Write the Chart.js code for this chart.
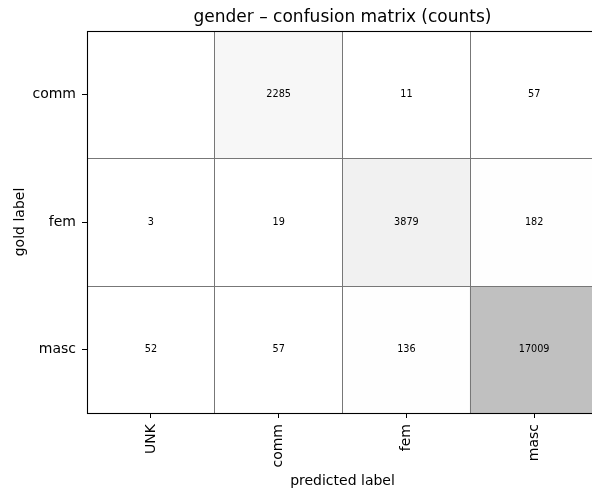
<!DOCTYPE html>
<html>
<head>
<meta charset="utf-8">
<script src="https://cdn.jsdelivr.net/npm/chart.js@4/dist/chart.umd.min.js"></script>
<style>
  html, body { margin: 0; padding: 0; background: #fff; overflow: hidden; }
  #wrap { width: 600px; height: 494px; }
</style>
</head>
<body>
<div id="wrap"><canvas id="cm"></canvas></div>
<script>
/* ====== DATA ====== */
const predLabels = ["UNK", "comm", "fem", "masc"];
const goldLabels = ["comm", "fem", "masc"];
const rowComm = [0, 2285, 11, 57];
const rowFem  = [3, 19, 3879, 182];
const rowMasc = [52, 57, 136, 17009];
const rows = [rowComm, rowFem, rowMasc];

const maxCount = Math.max(...rows.flat());
const FONT = "DejaVu Sans";

function shade(v) {
    const g = Math.round(255 - 63 * v / maxCount);
    return `rgb(${g},${g},${g})`;
}

const datasets = rows.map((row, i) => ({
    label: goldLabels[i],
    data: row.map(() => [i, i + 1]),
    counts: row,
    backgroundColor: row.map(shade),
    borderWidth: 0,
    barPercentage: 1,
    categoryPercentage: 1,
    grouped: false
}));

/* ====== CELL LINES, TEXT + FRAME ====== */
const cellText = {
    id: "cellText",
    afterDatasetsDraw(chart) {
        const c = chart.ctx;
        const a = chart.chartArea;
        const xs = chart.scales.x, ys = chart.scales.y;
        c.save();

        // cell edges
        c.strokeStyle = "#777";
        c.lineWidth = 1;
        c.beginPath();
        for (let j = 1; j < predLabels.length; j++) {
            const px = Math.floor((xs.getPixelForValue(j - 1) + xs.getPixelForValue(j)) / 2) + 0.5;
            c.moveTo(px, a.top);
            c.lineTo(px, a.bottom);
        }
        for (let i = 1; i < goldLabels.length; i++) {
            const py = Math.round(ys.getPixelForValue(i)) + 0.5;
            c.moveTo(a.left, py);
            c.lineTo(a.right, py);
        }
        c.stroke();

        // counts
        c.font = `9.7px '${FONT}'`;
        c.fillStyle = "#000";
        c.textAlign = "center";
        c.textBaseline = "middle";
        chart.data.datasets.forEach((ds, di) => {
            chart.getDatasetMeta(di).data.forEach((bar, j) => {
                const v = ds.counts[j];
                if (!v) return;
                const p = bar.getProps(["x", "y", "base"], true);
                c.fillText(String(v), p.x, (p.y + p.base) / 2);
            });
        });

        // axes frame
        c.strokeStyle = "#000";
        c.lineWidth = 1.1;
        const l = Math.round(a.left) + 0.5, t = Math.round(a.top) + 0.5;
        const b = Math.round(a.bottom) + 0.5, r = Math.round(a.right) + 0.5;
        c.strokeRect(l, t, r - l, b - t);
        c.restore();
    }
};

/* ====== CHART ====== */
new Chart(document.getElementById("cm"), {
    type: "bar",
    data: { labels: predLabels, datasets: datasets },
    plugins: [cellText],
    options: {
        responsive: true,
        maintainAspectRatio: false,
        animation: false,
        layout: { padding: { left: 0, right: 2, top: 0, bottom: 0 } },
        plugins: {
            legend: { display: false },
            tooltip: { enabled: false },
            title: {
                display: true,
                text: "gender – confusion matrix (counts)",
                fullSize: false,
                color: "#000",
                font: { family: FONT, size: 17, weight: "normal", lineHeight: 1 },
                padding: { top: 9, bottom: 5 }
            }
        },
        scales: {
            x: {
                offset: true,
                grid: { offset: false, drawOnChartArea: false, color: "#000", tickLength: 5 },
                border: { display: false },
                ticks: {
                    color: "#000",
                    font: { family: FONT, size: 14 },
                    maxRotation: 90, minRotation: 90,
                    padding: 6
                },
                title: {
                    display: true,
                    text: "predicted label",
                    color: "#000",
                    font: { family: FONT, size: 14, lineHeight: 1.2 },
                    padding: { top: 0, bottom: 4 }
                },
                afterFit(s) { s.height = 81; }
            },
            y: {
                type: "linear",
                min: 0, max: 3,
                reverse: true,
                grid: { drawOnChartArea: false, color: "#000", tickLength: 5 },
                border: { display: false },
                afterBuildTicks(s) {
                    s.ticks = goldLabels.map((_, i) => ({ value: i + 0.5 }));
                },
                ticks: {
                    color: "#000",
                    font: { family: FONT, size: 14 },
                    padding: 6,
                    callback: (v) => goldLabels[Math.floor(v)]
                },
                title: {
                    display: true,
                    text: "gold label",
                    color: "#000",
                    font: { family: FONT, size: 14, lineHeight: 1.2 },
                    padding: { top: 12, bottom: 0 }
                },
                afterFit(s) { s.width = 87; }
            }
        }
    }
});
</script>
</body>
</html>
